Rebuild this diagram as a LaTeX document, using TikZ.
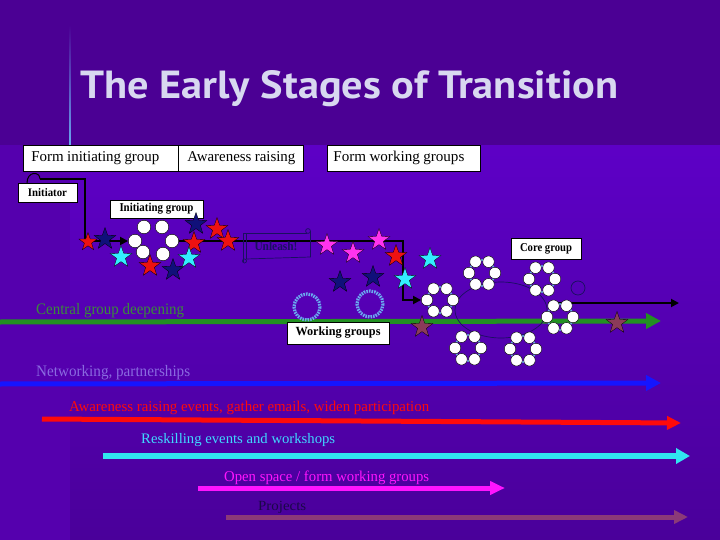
\documentclass[tikz,border=0pt]{standalone}
\usepackage{fontspec}
\setmainfont{Liberation Serif}
\newfontfamily\ttlfont{PT Sans}
\usetikzlibrary{shapes.geometric,arrows.meta,calc}
\newcommand{\fitx}[2]{\resizebox{#1}{\height}{#2}}
\newcommand{\fsz}[1]{\fontsize{#1}{#1}\selectfont}
\definecolor{bgtitle}{HTML}{4B0094}
\definecolor{bgleft}{HTML}{5500AE}
\definecolor{bodytop}{HTML}{5D00C6}
\definecolor{bodybot}{HTML}{4A009A}
\definecolor{titletext}{HTML}{D8D8F0}
\definecolor{greenline}{HTML}{229022}
\definecolor{greentext}{HTML}{3A8C3A}
\definecolor{netline}{HTML}{1515FF}
\definecolor{nettext}{HTML}{8A6AE0}
\definecolor{redline}{HTML}{FF0A0A}
\definecolor{cyanline}{HTML}{30E6F0}
\definecolor{cyantext}{HTML}{40D8FF}
\definecolor{magline}{HTML}{FF14FF}
\definecolor{projline}{HTML}{8B3A78}
\definecolor{projtext}{HTML}{1A0848}
\definecolor{stred}{HTML}{EE1111}
\definecolor{stnavy}{HTML}{10107A}
\definecolor{stcyan}{HTML}{33EEFF}
\definecolor{stmag}{HTML}{FF33EE}
\definecolor{stmaroon}{HTML}{8B3A5A}
\definecolor{ringblue}{HTML}{6AAAF0}
\definecolor{darknavy}{HTML}{1A1060}
\pgfdeclarelayer{bg}
\pgfdeclarelayer{back}
\pgfsetlayers{bg,back,main}
\begin{document}
\begin{tikzpicture}[x=1pt,y=-1pt,
  box/.style={draw=black,line width=0.8pt,fill=white,inner ysep=0pt,minimum height=26pt,anchor=north west,align=left},
  lbl/.style={draw=black,line width=0.8pt,fill=white,inner sep=0pt},
  st/.style={star,star points=5,star point ratio=2.5,minimum size=23pt,inner sep=0pt,draw=black,line width=0.3pt,fill=#1},
  wc/.style={circle,fill=white,draw=black,line width=0.4pt,minimum size=11.5pt,inner sep=0pt},
  igc/.style={wc,minimum size=13.5pt},
  blk/.style={draw=black,line width=1.8pt},
  blkarr/.style={blk,-{Triangle[length=8pt,width=8pt]}},
  fat/.style={line width=5pt,draw=#1,-{Triangle[length=15pt,width=15pt]}},
  txt/.style={anchor=west,inner sep=0pt},
  ring/.style={draw=ringblue,line width=1.6pt},
  wg/.style={draw=ringblue,line width=3.2pt,dash pattern=on 1.6pt off 1pt},
  scroll/.style={draw=darknavy,line width=0.7pt}
]
\useasboundingbox (0,0) rectangle (720,540);
\begin{pgfonlayer}{bg}
\fill[bgleft] (0,0) rectangle (720,540);
\shade[top color=bodytop,bottom color=bodybot] (70,145) rectangle (720,540);
\fill[bgtitle] (0,0) rectangle (720,145);
\shade[top color=bgtitle,bottom color=ringblue] (69.3,25) rectangle (70.8,146);
\end{pgfonlayer}

% title
\node[anchor=base west,inner sep=0pt,text=titletext] (title) at (80,99)
  {\resizebox{538pt}{28pt}{\ttlfont\bfseries The Early Stages of Transition}};

% stage boxes
\node[box,minimum width=155pt,inner xsep=8pt,text width=139pt] (b1) at (23,145) {\fitx{128pt}{\fsz{15}Form initiating group}};
\node[box,minimum width=125pt,inner xsep=9pt,text width=107pt] (b2) at (178,145) {\fitx{108pt}{\fsz{15}Awareness raising}};
\node[box,minimum width=153pt,inner xsep=6pt,text width=141pt] (b3) at (327,145) {\fitx{131pt}{\fsz{15}Form working groups}};

% labels
\node[lbl,minimum width=59pt,minimum height=19pt] (init) at (47.5,192.5) {\fitx{39pt}{\fsz{11.5}\bfseries Initiator}};
\node[lbl,minimum width=93pt,minimum height=18pt] (igl) at (156.5,209) {\fitx{74pt}{\fsz{12}\bfseries Initiating group}};
\node[lbl,minimum width=70pt,minimum height=21pt] (core) at (546,248.5) {\fitx{52pt}{\fsz{12}\bfseries Core group}};

% initiating group circles
\node[igc] (ig1) at (144,227) {};
\node[igc] (ig2) at (162,227) {};
\node[igc] (ig3) at (135,241) {};
\node[igc] (ig4) at (172,241) {};
\node[igc] (ig5) at (143,252) {};
\node[igc] (ig6) at (163,254) {};

% large ellipse and small circle
\draw[darknavy,line width=0.7pt] (501,310) ellipse [x radius=46, y radius=28];
\draw[darknavy,line width=0.7pt] (578,288) circle [radius=7];

% working group rings
\draw[wg] (307,307) circle [radius=13];
\draw[wg] (370,304) circle [radius=13];

% clusters
\foreach \n/\cx/\cy in {cA/440/300,cB/482/273,cC/542/279,cD/560/317,cE/468/348,cF/523/349}{
  \draw[ring] (\cx,\cy) circle [radius=13];
  \foreach \i in {0,...,5}{
    \node[wc] (\n-\i) at ({\cx+13*cos(60*\i)},{\cy+13*sin(60*\i)}) {};
  }
}

% Unleash scroll
\node[inner sep=0pt,text=darknavy] (unl) at (276,246) {\fitx{43pt}{\fsz{12.5}\bfseries Unleash!}};
\draw[scroll] (244,233) -- (307,233);
\draw[scroll] (308,231) circle [radius=2.4];
\draw[scroll] (310.4,231) -- (310.4,257) -- (246,259);
\draw[scroll] (243,233) -- (243,262);
\draw[scroll] (246,233) -- (246,259);
\draw[scroll] (244.5,261) circle [radius=2];

% black connectors (behind)
\coordinate (bump0) at (27,183);
\coordinate (bump1) at (40,179);
\coordinate (c1) at (85,179);
\coordinate (c2) at (403,300);
\coordinate (k1) at (548,303);
\coordinate (k2) at (679,303);
\begin{pgfonlayer}{back}
\draw[blk,line width=1pt] (bump0) .. controls (27,171) and (40,171) .. (bump1);
\draw[blkarr] (bump1) -- (c1) |- (ig3.west);
\draw[blkarr] (ig4.east) -| (c2) -- (cA-3.west);
\draw[blkarr] (k1) -- (k2);
% thick timeline arrows
\coordinate (g0) at (0,322);  \coordinate (g1) at (661,321);
\coordinate (n0) at (0,384);  \coordinate (n1) at (661,383);
\draw[fat=greenline] (g0) -- (g1);
\draw[fat=netline] (n0) -- (n1);
\end{pgfonlayer}

\node[lbl,minimum width=102pt,minimum height=22pt] (wgl) at (338,333) {\fitx{85pt}{\fsz{12.5}\bfseries Working groups}};

% stars
\node[st=stred,minimum size=19pt] (s1) at (88,242) {};
\node[st=stred] (s2) at (150,266) {};
\node[st=stred] (s3) at (194,243) {};
\node[st=stred] (s4) at (217,229) {};
\node[st=stred] (s5) at (228,241) {};
\node[st=stred] (s6) at (396,256) {};
\node[st=stnavy] (s7) at (105,239) {};
\node[st=stnavy] (s8) at (173,270) {};
\node[st=stnavy] (s9) at (196,224) {};
\node[st=stnavy] (s10) at (340,282) {};
\node[st=stnavy] (s11) at (373,277) {};
\node[st=stcyan] (s12) at (121,257) {};
\node[st=stcyan] (s13) at (189,258) {};
\node[st=stcyan] (s14) at (405,279) {};
\node[st=stcyan] (s15) at (430,259) {};
\node[st=stmag] (s16) at (327,245) {};
\node[st=stmag] (s17) at (353,253) {};
\node[st=stmag] (s18) at (379,240) {};
\node[st=stmaroon] (s19) at (422,327) {};
\node[st=stmaroon] (s20) at (617,323) {};

% lower arrows
\coordinate (r0) at (42,419);  \coordinate (r1) at (681,423);
\coordinate (y0) at (103,456); \coordinate (y1) at (690,456);
\coordinate (m0) at (198,488); \coordinate (m1) at (505,488);
\coordinate (p0) at (226,517); \coordinate (p1) at (688,517);
\draw[fat=redline,-{Triangle[length=14pt,width=13pt]}] (r0) -- (r1);
\draw[fat=cyanline,line width=6pt,-{Triangle[length=14pt,width=15pt]}] (y0) -- (y1);
\draw[fat=magline,-{Triangle[length=15pt,width=13pt]}] (m0) -- (m1);
\draw[fat=projline,-{Triangle[length=14pt,width=13pt]}] (p0) -- (p1);

% texts
\node[txt,text=greentext] (tc) at (36,311) {\fitx{148pt}{\fsz{16}Central group deepening}};
\node[txt,text=nettext] (tn) at (36,373) {\fitx{154pt}{\fsz{16}Networking, partnerships}};
\node[txt,text=redline] (tr) at (69,408) {\fitx{360pt}{\fsz{15}Awareness raising events, gather emails, widen participation}};
\node[txt,text=cyantext] (ty) at (141,440) {\fitx{194pt}{\fsz{14.5}Reskilling events and workshops}};
\node[txt,text=magline] (tm) at (224,478) {\fitx{205pt}{\fsz{15}Open space / form working groups}};
\node[txt,text=projtext] (tp) at (258,507) {\fitx{48pt}{\fsz{14}Projects}};
\end{tikzpicture}
\end{document}
